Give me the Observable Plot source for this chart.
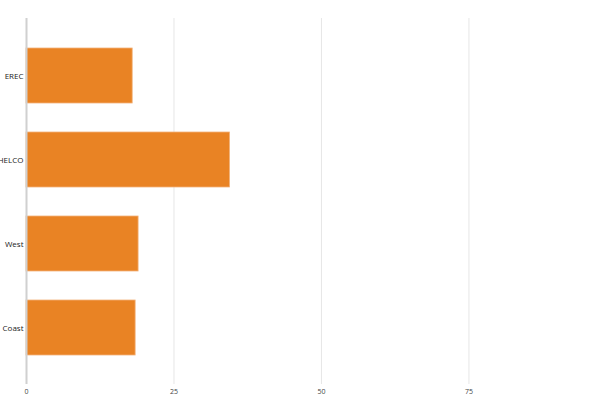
<!DOCTYPE html>
<html>
<head>
<meta charset="utf-8">
<script src="https://cdn.jsdelivr.net/npm/d3@7"></script>
<script src="https://cdn.jsdelivr.net/npm/@observablehq/plot@0.6"></script>
<style>
  html, body { margin: 0; padding: 0; background: #fff; }
  #chart svg { display: block; }
</style>
</head>
<body>
<div id="chart"></div>
<script>
const categories = ["EREC", "HELCO", "West", "Coast"];
const values = [18.0, 34.5, 19.0, 18.5];
const xTicks = [0, 25, 50, 75];

const data = categories.map((c, i) => ({ name: c, value: values[i] }));

const chart = Plot.plot({
  width: 600,
  height: 400,
  marginLeft: 26,
  marginRight: 0,
  marginTop: 18,
  marginBottom: 16,
  style: { fontFamily: "'Open Sans', sans-serif", background: "#fff" },
  x: { domain: [0, 97.3], ticks: xTicks, label: null },
  y: { domain: categories, padding: 0.35, label: null },
  marks: [
    Plot.gridX(xTicks.filter(t => t > 0), { stroke: "#e6e6e6", strokeOpacity: 1, strokeWidth: 1 }),
    Plot.barX(data, { x: "value", y: "name", fill: "#E98324", stroke: "#F2B27A", strokeWidth: 0.8 }),
    Plot.ruleX([0], { stroke: "#d0d0d0", strokeWidth: 2 }),
    Plot.axisY({ tickSize: 0, tickPadding: 3, fontSize: 8, fill: "#222", label: null }),
    Plot.axisX({ ticks: xTicks, tickSize: 0, tickPadding: 5, fontSize: 7, fill: "#444", label: null })
  ]
});
document.getElementById("chart").appendChild(chart);
</script>
</body>
</html>
